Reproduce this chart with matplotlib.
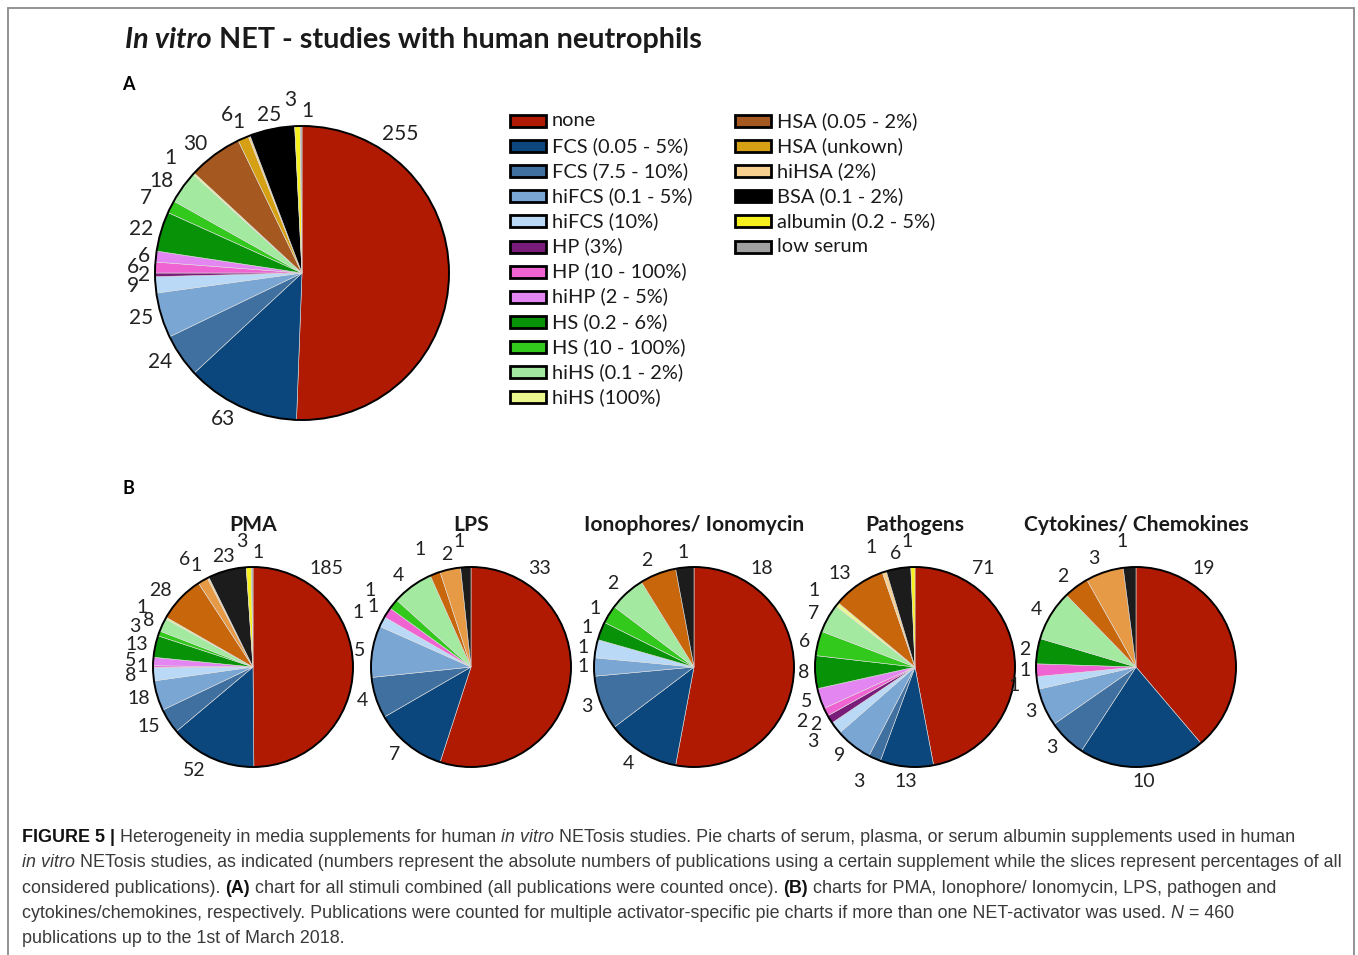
import numpy as np
import matplotlib
matplotlib.use('Agg')
import matplotlib.pyplot as plt
from matplotlib.patches import Rectangle, Circle

# legend entries (column 1 then column 2)
supplements = ['none', 'FCS (0.05 - 5%)', 'FCS (7.5 - 10%)', 'hiFCS (0.1 - 5%)',
               'hiFCS (10%)', 'HP (3%)', 'HP (10 - 100%)', 'hiHP (2 - 5%)',
               'HS (0.2 - 6%)', 'HS (10 - 100%)', 'hiHS (0.1 - 2%)', 'hiHS (100%)',
               'HSA (0.05 - 2%)', 'HSA (unkown)', 'hiHSA (2%)', 'BSA (0.1 - 2%)',
               'albumin (0.2 - 5%)', 'low serum']

# publication counts, same order as supplements
all_stimuli = [255, 63, 24, 25, 9, 2, 6, 6, 22, 7, 18, 1, 30, 6, 1, 25, 3, 1]
pma = [185, 52, 15, 18, 8, 0, 1, 5, 13, 3, 8, 1, 28, 6, 1, 23, 3, 1]
lps = [33, 7, 4, 5, 1, 0, 1, 0, 0, 1, 4, 0, 1, 2, 0, 1, 0, 0]
ionophores = [18, 4, 3, 1, 1, 0, 0, 0, 1, 1, 2, 0, 2, 0, 0, 1, 0, 0]
pathogens = [71, 13, 3, 9, 3, 2, 2, 5, 8, 6, 7, 1, 13, 0, 1, 6, 1, 0]
cytokines = [19, 10, 3, 3, 1, 0, 1, 0, 2, 0, 4, 0, 2, 3, 0, 1, 0, 0]

b_titles = ['PMA', 'LPS', 'Ionophores/ Ionomycin', 'Pathogens', 'Cytokines/ Chemokines']
b_data = [pma, lps, ionophores, pathogens, cytokines]

colors_a = ['#b01a02', '#0b477c', '#3f70a0', '#7aa6d4', '#b9d9f6', '#7a1d7a',
            '#f063d2', '#e486f2', '#089208', '#33c91c', '#a3e9a0', '#eaf78f',
            '#a5581f', '#d6a015', '#f7d08f', '#000000', '#f7f01f', '#a0a0a0']
colors_b = list(colors_a)
colors_b[12] = '#c8660c'
colors_b[13] = '#e79a45'
colors_b[15] = '#1c1c1c'

W, H = 1358, 955
fig = plt.figure(figsize=(W / 100, H / 100), dpi=100)
fig.patch.set_facecolor('white')
renderer = fig.canvas.get_renderer()

fig.patches.append(Rectangle((8 / W, -0.01), (1354 - 8) / W, 1 - 8 / H + 0.01,
                             transform=fig.transFigure, fill=False,
                             edgecolor='#8a8a8a', linewidth=1.3))

UI = 'Lato'
CAP = 'Liberation Sans'


def text_width(s, **kw):
    # width in pixels, counting spaces too
    t = fig.text(0, 0, 'x' + s + 'x', **kw)
    w1 = t.get_window_extent(renderer=renderer).width
    t.remove()
    t = fig.text(0, 0, 'xx', **kw)
    w2 = t.get_window_extent(renderer=renderer).width
    t.remove()
    return w1 - w2


def fit_size(s, target, **kw):
    return 10 * target / text_width(s, fontsize=10, **kw)


def draw_parts(x, y, parts, size, family, color):
    # x, y in pixels from top left, baseline
    for s, kw in parts:
        fig.text(x / W, 1 - y / H, s, fontsize=size, family=family,
                 color=kw.pop('color', color), va='baseline', **kw)
        x += text_width(s, fontsize=size, family=family, **kw)


def pie_axes(cx, cy, r):
    half = 1.5 * r
    ax = fig.add_axes([(cx - half) / W, 1 - (cy + half) / H, 2 * half / W, 2 * half / H])
    return ax


def draw_pie(ax, values, colors, fsize, R):
    vals = [v for v in values if v > 0]
    cols = [c for v, c in zip(values, colors) if v > 0]
    wedges, _ = ax.pie(vals, colors=cols, startangle=90, counterclock=False,
                       wedgeprops=dict(linewidth=0.4, edgecolor='#dddddd'))
    ax.add_patch(Circle((0, 0), 1, fill=False, edgecolor='black', linewidth=1.4))
    total = float(sum(vals))
    bump = True
    for i, (w, v) in enumerate(zip(wedges, vals)):
        if i == 0:
            # big "none" label sits at the upper right in the original
            ang = np.deg2rad(60)
        else:
            ang = np.deg2rad((w.theta1 + w.theta2) / 2)
        small = v / total < 0.025
        bump = small and not bump
        r = (R + 5 + 10 * abs(np.sin(ang)) + (11 if bump else 0)) / R
        x, y = r * np.cos(ang), r * np.sin(ang)
        ha = 'center'
        if x > 0.3:
            ha = 'left'
        elif x < -0.3:
            ha = 'right'
        elif small:
            # stacked small labels near top/bottom: split them sideways
            ha = 'right' if bump else 'left'
        ax.text(x, y, str(v), ha=ha, va='center', fontsize=fsize, family=UI, color='#222222')
    ax.set_xlim(-1.5, 1.5)
    ax.set_ylim(-1.5, 1.5)
    ax.set_aspect('equal')
    ax.axis('off')


# title
title_parts = [('In vitro', dict(style='italic', weight='bold')),
               (' NET - studies with human neutrophils', dict(weight='bold'))]
tsize = fit_size('In vitro NET - studies with human neutrophils', 582, family=UI, weight='bold')
draw_parts(125, 48, title_parts, tsize, UI, '#1a1a1a')

fig.text(122 / W, 1 - 90 / H, 'A', fontsize=13, weight='bold', family=UI)
fig.text(122 / W, 1 - 494 / H, 'B', fontsize=13, weight='bold', family=UI)

# panel A
ax_a = pie_axes(302, 273, 147)
draw_pie(ax_a, all_stimuli, colors_a, 15, 147)

# legend
lsize = fit_size('FCS (0.05 - 5%)', 136, family=UI)
for i, (lab, col) in enumerate(zip(supplements, colors_a)):
    col_i, row = (0, i) if i < 12 else (1, i - 12)
    x0 = 510 if col_i == 0 else 735
    y0 = 121 + row * 25.1
    fig.patches.append(Rectangle((x0 / W, 1 - (y0 + 6) / H), 36 / W, 12 / H,
                                 transform=fig.transFigure, facecolor=col,
                                 edgecolor='black', linewidth=2))
    fig.text((x0 + 42) / W, 1 - y0 / H, lab, fontsize=lsize, family=UI,
             va='center', color='#1a1a1a')

# panel B
b_centers = [253, 471, 694, 915, 1136]
bsize = fit_size('Ionophores/ Ionomycin', 220, family=UI, weight='bold')
for cx, ttl, vals in zip(b_centers, b_titles, b_data):
    ax = pie_axes(cx, 667, 100)
    draw_pie(ax, vals, colors_b, 14, 100)
    fig.text(cx / W, 1 - 525 / H, ttl, fontsize=bsize, weight='bold', family=UI,
             ha='center', va='center', color='#1a1a1a')

# caption
cap_lines = [
    [('FIGURE 5 | ', dict(weight='bold', color='#111111')),
     ('Heterogeneity in media supplements for human ', {}),
     ('in vitro', dict(style='italic')),
     (' NETosis studies. Pie charts of serum, plasma, or serum albumin supplements used in human', {})],
    [('in vitro', dict(style='italic')),
     (' NETosis studies, as indicated (numbers represent the absolute numbers of publications using a certain supplement while the slices represent percentages of all', {})],
    [('considered publications). ', {}),
     ('(A)', dict(weight='bold', color='#111111')),
     (' chart for all stimuli combined (all publications were counted once). ', {}),
     ('(B)', dict(weight='bold', color='#111111')),
     (' charts for PMA, Ionophore/ Ionomycin, LPS, pathogen and', {})],
    [('cytokines/chemokines, respectively. Publications were counted for multiple activator-specific pie charts if more than one NET-activator was used. ', {}),
     ('N', dict(style='italic')),
     (' = 460', {})],
    [('publications up to the 1st of March 2018.', {})],
]
line2 = ''.join(s for s, _ in cap_lines[1])
csize = fit_size(line2, 1318, family=CAP)
for k, parts in enumerate(cap_lines):
    draw_parts(22, 842 + k * 25.3, parts, csize, CAP, '#3a3a3a')

fig.savefig('out.png', dpi=100)
